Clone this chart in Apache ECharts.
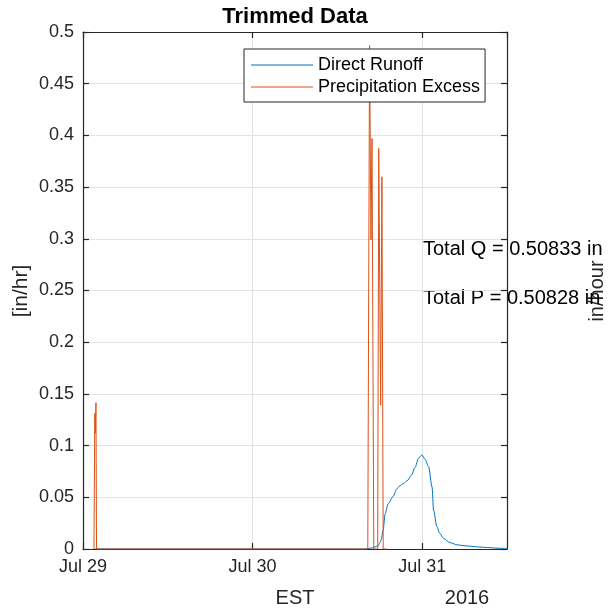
<!DOCTYPE html>
<html>
<head>
<meta charset="utf-8">
<script src="https://cdn.jsdelivr.net/npm/echarts@6/dist/echarts.min.js"></script>
<style>html,body{margin:0;padding:0;background:#fff}#c{width:613px;height:613px}</style>
</head>
<body>
<div id="c"></div>
<script>
// Hours since Jul 29 00:00 EST
const xTickHours = [0, 24, 48];
const xTickLabels = ['Jul 29', 'Jul 30', 'Jul 31'];
const runoffHours = [1.6, 40.0, 40.9, 41.76, 42.0, 42.2, 42.47, 42.75, 43.2, 43.9, 44.4, 44.8, 45.3, 45.87, 46.44, 47.0, 47.47, 47.95, 48.4, 48.9, 49.4, 49.6, 50.08, 50.5, 51.0, 51.96, 53.0, 54.3, 56.7, 59.0, 60.0];
const runoffValues = [0, 0, 0.001, 0.003, 0.006, 0.009, 0.018, 0.034, 0.044, 0.051, 0.058, 0.061, 0.063, 0.066, 0.071, 0.079, 0.0877, 0.0909, 0.087, 0.0796, 0.060, 0.0377, 0.0216, 0.015, 0.0103, 0.0061, 0.004, 0.0029, 0.0016, 0.0007, 0.0005];
const precipHours = [1.55, 1.667, 1.75, 1.833, 1.917, 40.3, 40.55, 40.75, 40.9, 41.15, 41.7, 41.85, 42.12, 42.3, 42.48, 43.0];
const precipValues = [0, 0.131, 0.112, 0.1415, 0, 0, 0.487, 0.299, 0.397, 0, 0, 0.3875, 0.139, 0.36, 0, 0];
const seriesNames = ['Direct Runoff', 'Precipitation Excess'];
const totalTexts = ['Total Q = 0.50833 in', 'Total P = 0.50828 in'];

const FONT = "'Liberation Sans', Arial, Helvetica, sans-serif";
const AX = '#262626';
const pair = (xs, ys) => xs.map((x, i) => [x, ys[i]]);

const chart = echarts.init(document.getElementById('c'), null, {renderer: 'canvas'});
const yFmt = v => String(+v.toFixed(2));
const xFmt = v => { const i = xTickHours.indexOf(Math.round(v)); return i >= 0 && Math.abs(v - xTickHours[i]) < 1e-6 ? xTickLabels[i] : ''; };

chart.setOption({
  backgroundColor: '#fff',
  animation: false,
  textStyle: {fontFamily: FONT},
  title: {
    text: 'Trimmed Data', left: 295, top: 6, textAlign: 'center', padding: 0,
    textStyle: {fontFamily: FONT, fontWeight: 'bold', fontSize: 22, color: '#000'}
  },
  grid: {left: 83, right: 106, top: 32, bottom: 64, containLabel: false},
  legend: {
    orient: 'vertical', left: 244, top: 49,
    padding: [7, 5, 6, 7], itemWidth: 62, itemHeight: 1.2, itemGap: 4,
    icon: 'rect',
    borderColor: AX, borderWidth: 1, backgroundColor: '#fff',
    textStyle: {fontFamily: FONT, fontSize: 18, color: '#000', lineHeight: 18},
    data: seriesNames
  },
  xAxis: [{
    type: 'value', min: 0, max: 60, interval: 24,
    axisLine: {lineStyle: {color: AX, width: 1.2}},
    axisTick: {inside: true, length: 6, lineStyle: {color: AX, width: 1.2}},
    axisLabel: {formatter: xFmt, color: AX, fontSize: 18, margin: 9, fontFamily: FONT, showMaxLabel: false},
    splitLine: {show: true, lineStyle: {color: '#e3e3e3', width: 1}}
  }, {
    type: 'value', min: 0, max: 60, interval: 24, position: 'top',
    axisLine: {onZero: false, lineStyle: {color: AX, width: 1.2}},
    axisTick: {inside: true, length: 6, lineStyle: {color: AX, width: 1.2}},
    axisLabel: {show: false}, splitLine: {show: false}
  }],
  yAxis: [{
    type: 'value', min: 0, max: 0.5, interval: 0.05,
    axisLine: {show: true, lineStyle: {color: AX, width: 1.2}},
    axisTick: {show: true, inside: true, length: 6, lineStyle: {color: AX, width: 1.2}},
    axisLabel: {formatter: yFmt, color: AX, fontSize: 18, margin: 9, fontFamily: FONT},
    splitLine: {show: true, lineStyle: {color: '#e3e3e3', width: 1}}
  }, {
    type: 'value', min: 0, max: 0.5, interval: 0.05, position: 'right',
    axisLine: {show: true, onZero: false, lineStyle: {color: AX, width: 1.2}},
    axisTick: {show: true, inside: true, length: 6, lineStyle: {color: AX, width: 1.2}},
    axisLabel: {show: false}, splitLine: {show: false}
  }],
  series: [{
    name: seriesNames[0], type: 'line', data: pair(runoffHours, runoffValues),
    symbol: 'none', smooth: 0.3, smoothMonotone: 'x',
    lineStyle: {color: '#0072BD', width: 1}, itemStyle: {color: '#0072BD'}
  }, {
    name: seriesNames[1], type: 'line', data: pair(precipHours, precipValues),
    symbol: 'none',
    lineStyle: {color: '#D95319', width: 1}, itemStyle: {color: '#D95319'}
  }],
  graphic: [
    {type: 'text', x: 21, y: 291, rotation: Math.PI / 2, style: {text: '[in/hr]', font: '21px ' + FONT, fill: AX, textAlign: 'center', textVerticalAlign: 'middle'}},
    {type: 'text', x: 295, y: 598, style: {text: 'EST', font: '20px ' + FONT, fill: AX, textAlign: 'center', textVerticalAlign: 'middle'}},
    {type: 'text', x: 467, y: 598, style: {text: '2016', font: '20px ' + FONT, fill: AX, textAlign: 'center', textVerticalAlign: 'middle'}},
    {type: 'text', x: 597, y: 291, rotation: Math.PI / 2, style: {text: 'in/hour', font: '20px ' + FONT, fill: AX, textAlign: 'center', textVerticalAlign: 'middle'}},
    {type: 'text', x: 423, y: 249, style: {text: totalTexts[0], font: '20px ' + FONT, fill: '#000', textAlign: 'left', textVerticalAlign: 'middle'}},
    {type: 'text', x: 423, y: 298, style: {text: totalTexts[1], font: '20px ' + FONT, fill: '#000', textAlign: 'left', textVerticalAlign: 'middle'}}
  ]
});
</script>
</body>
</html>
